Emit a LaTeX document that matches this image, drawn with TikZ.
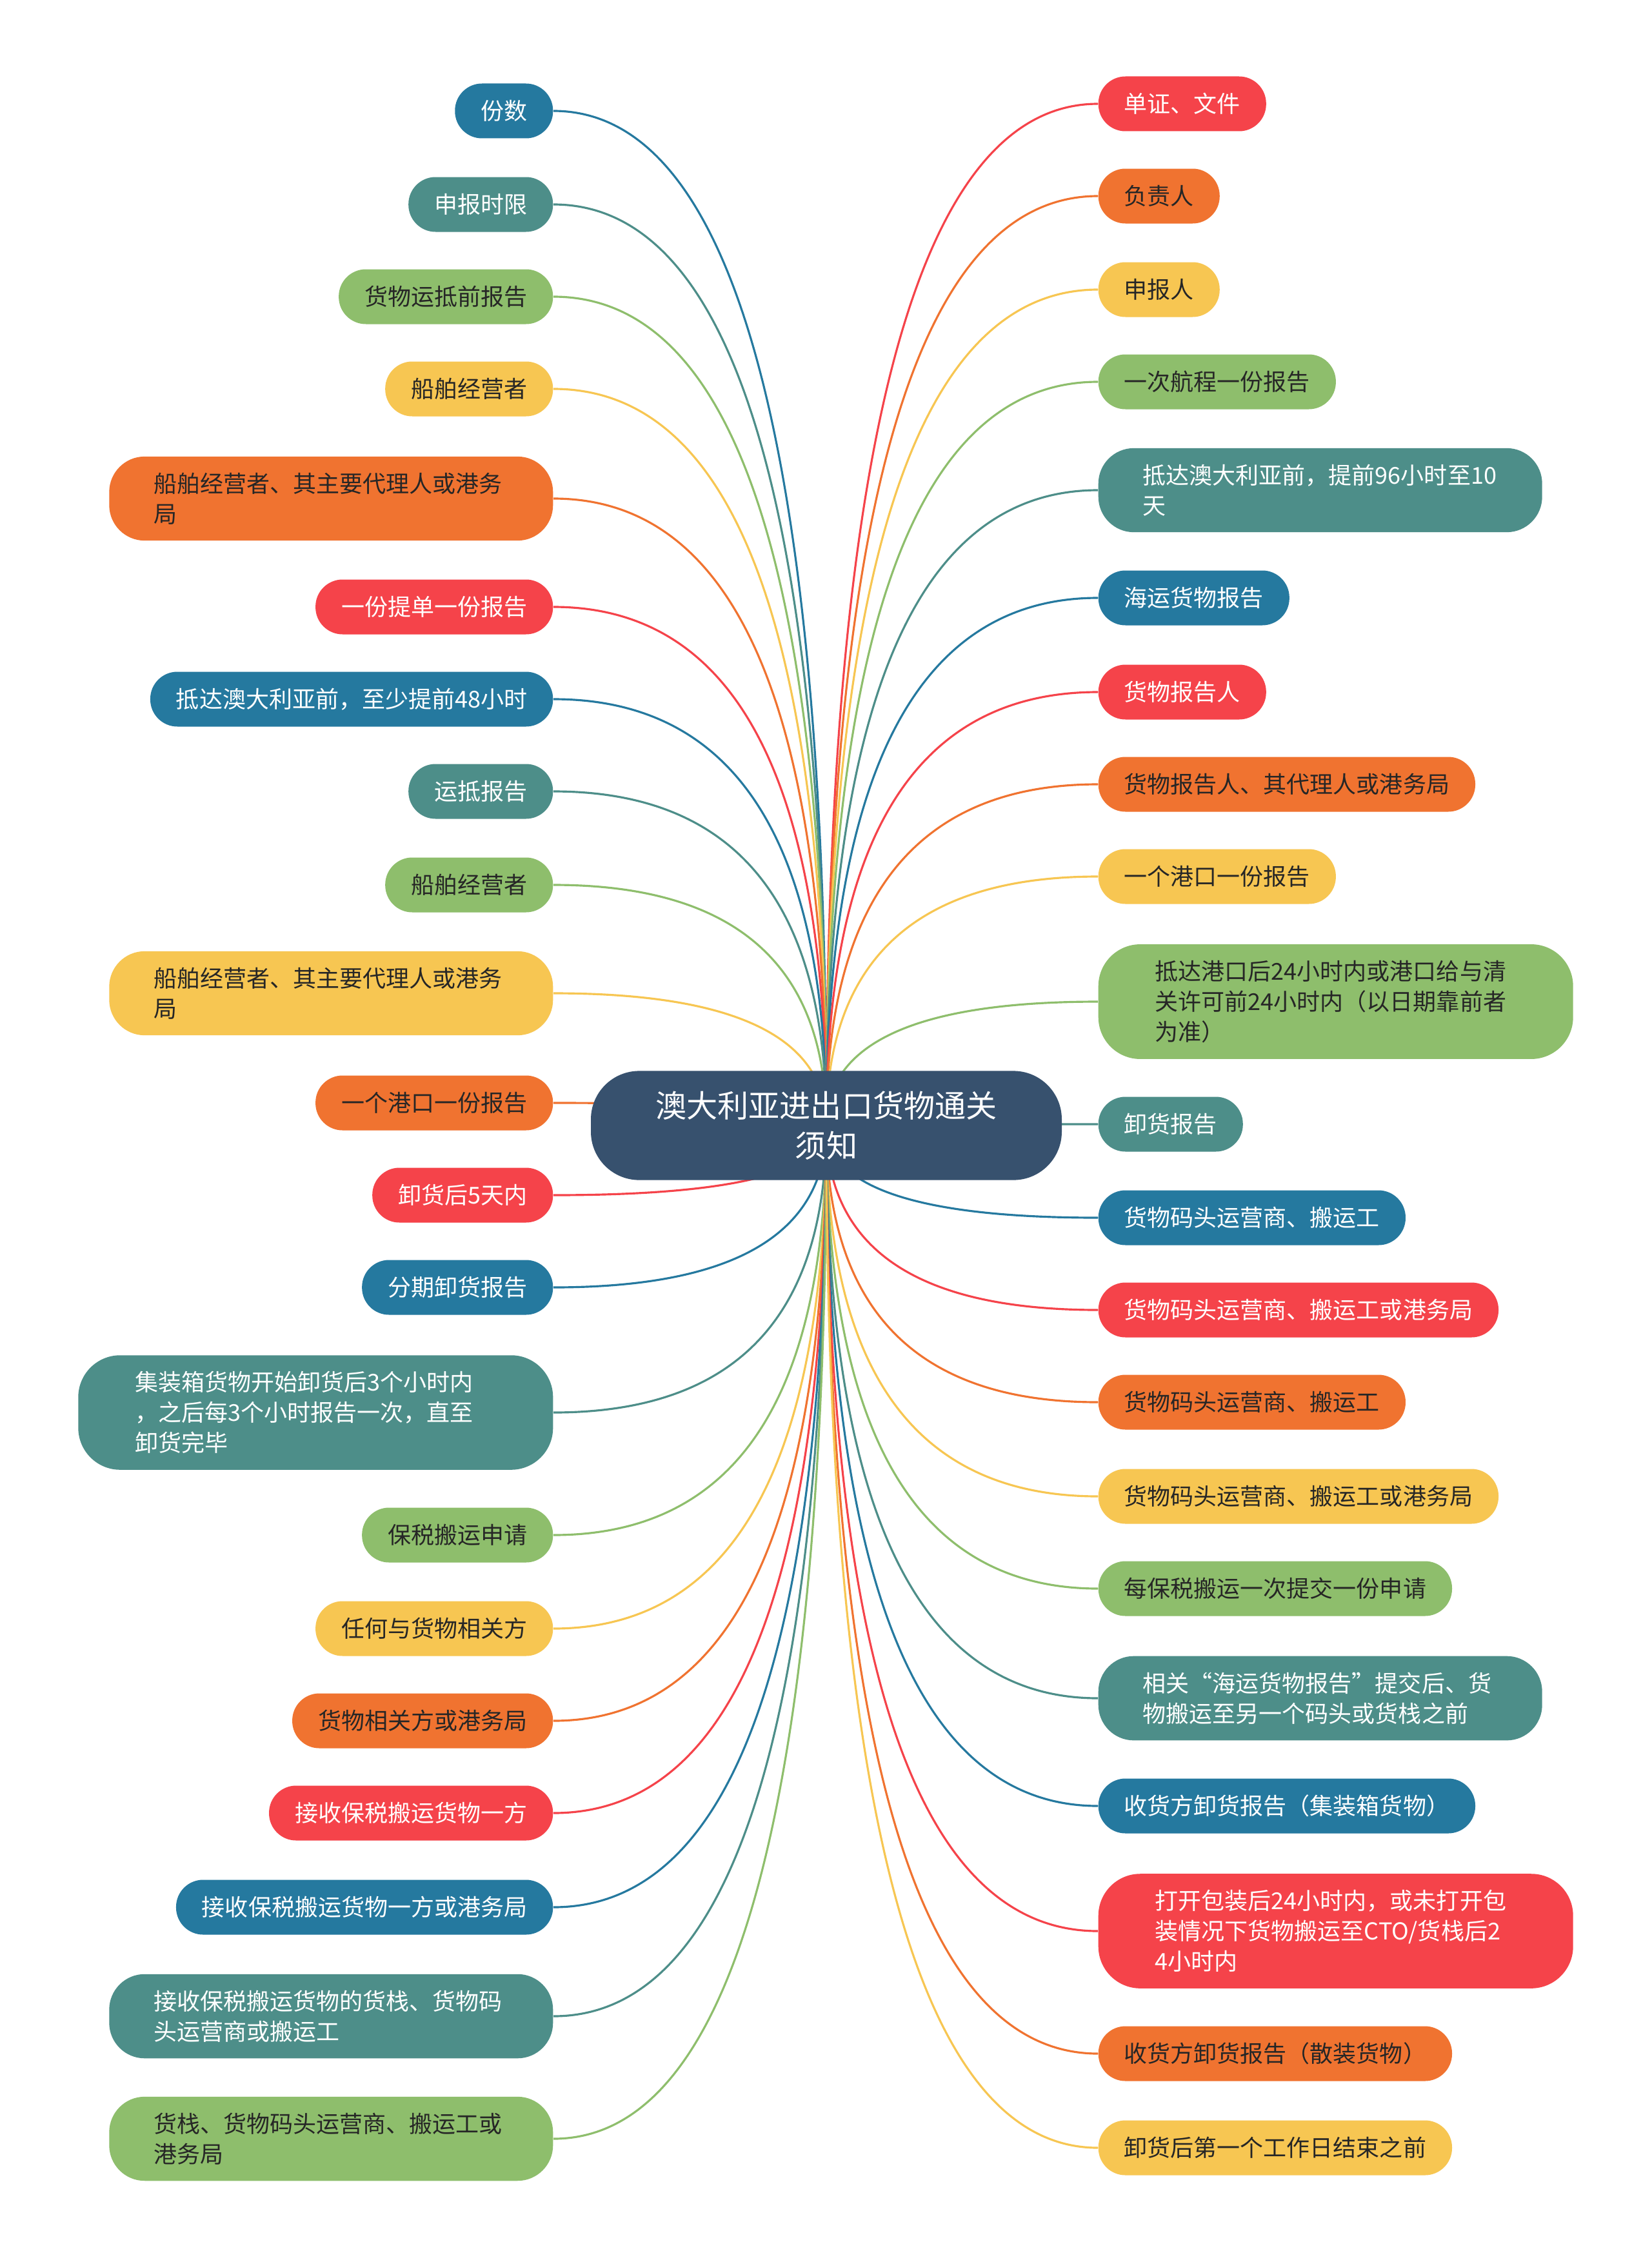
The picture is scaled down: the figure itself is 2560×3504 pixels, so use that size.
\documentclass[tikz,border=0pt]{standalone}
\usepackage{fontspec}
\newfontfamily\cjk{Noto Sans CJK SC}
\usetikzlibrary{calc}

% 配色
\definecolor{cRed}{HTML}{F5434A}
\definecolor{cOrange}{HTML}{F07330}
\definecolor{cYellow}{HTML}{F7C652}
\definecolor{cGreen}{HTML}{8EBE6C}
\definecolor{cTeal}{HTML}{4D8E89}
\definecolor{cBlue}{HTML}{25799F}
\definecolor{cRoot}{HTML}{37516E}
\definecolor{cInk}{HTML}{262626}

\pgfdeclarelayer{bg}
\pgfsetlayers{bg,main}

\tikzset{
  leaf/.style={font={\cjk\fontsize{10.25pt}{13.4pt}\selectfont}, rounded corners=4.2mm,
    minimum height=8.5mm, inner xsep=4mm, inner ysep=2.5mm},
  lred/.style={leaf, fill=cRed, text=white},
  lorange/.style={leaf, fill=cOrange, text=cInk},
  lyellow/.style={leaf, fill=cYellow, text=cInk},
  lgreen/.style={leaf, fill=cGreen, text=cInk},
  lteal/.style={leaf, fill=cTeal, text=white},
  lblue/.style={leaf, fill=cBlue, text=white},
  twoline/.style={text width=5.5cm, align=left, inner xsep=6.9mm, rounded corners=5.5mm},
  threeline/.style={text width=5.6cm, align=left, inner xsep=8.8mm, rounded corners=6.5mm},
  branch/.style={line width=0.9pt, to path={.. controls
    ($(\tikztostart)!0.667!(\tikztostart |- \tikztotarget)$) and
    ($(\tikztotarget)!0.667!(\tikztostart |- \tikztotarget)$) .. (\tikztotarget)}}
}

\begin{document}
\begin{tikzpicture}[x=0.1mm, y=-0.1mm]
  \useasboundingbox (0,0) rectangle (2560,3504);

  % 中心主题
  \node[fill=cRoot, text=white, rounded corners=7.5mm, text width=5.4cm, align=center,
    inner xsep=9.5mm, inner ysep=3.1mm, font={\cjk\fontsize{13.7pt}{17.8pt}\selectfont}]
    (root) at (1281,1745) {澳大利亚进出口货物通关\\须知};

  % 左侧分支（右边缘 x=858）
  \node[lblue, anchor=east] (L1) at (858,172) {份数};
  \node[lteal, anchor=east] (L2) at (858,317) {申报时限};
  \node[lgreen, anchor=east] (L3) at (858,460) {货物运抵前报告};
  \node[lyellow, anchor=east] (L4) at (858,603) {船舶经营者};
  \node[lorange, twoline, anchor=east] (L5) at (858,773) {船舶经营者、其主要代理人或港务\\局};
  \node[lred, anchor=east] (L6) at (858,941) {一份提单一份报告};
  \node[lblue, anchor=east] (L7) at (858,1084) {抵达澳大利亚前，至少提前48小时};
  \node[lteal, anchor=east] (L8) at (858,1227) {运抵报告};
  \node[lgreen, anchor=east] (L9) at (858,1372) {船舶经营者};
  \node[lyellow, twoline, anchor=east] (L10) at (858,1540) {船舶经营者、其主要代理人或港务\\局};
  \node[lorange, anchor=east] (L11) at (858,1710) {一个港口一份报告};
  \node[lred, anchor=east] (L12) at (858,1853) {卸货后5天内};
  \node[lblue, anchor=east] (L13) at (858,1996) {分期卸货报告};
  \node[lteal, threeline, anchor=east] (L14) at (858,2190) {集装箱货物开始卸货后3个小时内\\，之后每3个小时报告一次，直至\\卸货完毕};
  \node[lgreen, anchor=east] (L15) at (858,2380) {保税搬运申请};
  \node[lyellow, anchor=east] (L16) at (858,2525) {任何与货物相关方};
  \node[lorange, anchor=east] (L17) at (858,2668) {货物相关方或港务局};
  \node[lred, anchor=east] (L18) at (858,2811) {接收保税搬运货物一方};
  \node[lblue, anchor=east] (L19) at (858,2957) {接收保税搬运货物一方或港务局};
  \node[lteal, twoline, anchor=east] (L20) at (858,3126) {接收保税搬运货物的货栈、货物码\\头运营商或搬运工};
  \node[lgreen, twoline, anchor=east] (L21) at (858,3316) {货栈、货物码头运营商、搬运工或\\港务局};

  % 右侧分支（左边缘 x=1702）
  \node[lred, anchor=west] (R1) at (1702,161) {单证、文件};
  \node[lorange, anchor=west] (R2) at (1702,304) {负责人};
  \node[lyellow, anchor=west] (R3) at (1702,449) {申报人};
  \node[lgreen, anchor=west] (R4) at (1702,592) {一次航程一份报告};
  \node[lteal, twoline, anchor=west] (R5) at (1702,760) {抵达澳大利亚前，提前96小时至10\\天};
  \node[lblue, anchor=west] (R6) at (1702,927) {海运货物报告};
  \node[lred, anchor=west] (R7) at (1702,1073) {货物报告人};
  \node[lorange, anchor=west] (R8) at (1702,1216) {货物报告人、其代理人或港务局};
  \node[lyellow, anchor=west] (R9) at (1702,1359) {一个港口一份报告};
  \node[lgreen, threeline, anchor=west] (R10) at (1702,1553) {抵达港口后24小时内或港口给与清\\关许可前24小时内（以日期靠前者\\为准）};
  \node[lteal, anchor=west] (R11) at (1702,1743) {卸货报告};
  \node[lblue, anchor=west] (R12) at (1702,1888) {货物码头运营商、搬运工};
  \node[lred, anchor=west] (R13) at (1702,2031) {货物码头运营商、搬运工或港务局};
  \node[lorange, anchor=west] (R14) at (1702,2174) {货物码头运营商、搬运工};
  \node[lyellow, anchor=west] (R15) at (1702,2320) {货物码头运营商、搬运工或港务局};
  \node[lgreen, anchor=west] (R16) at (1702,2463) {每保税搬运一次提交一份申请};
  \node[lteal, twoline, anchor=west] (R17) at (1702,2633) {相关“海运货物报告”提交后、货\\物搬运至另一个码头或货栈之前};
  \node[lblue, anchor=west] (R18) at (1702,2800) {收货方卸货报告（集装箱货物）};
  \node[lred, threeline, anchor=west] (R19) at (1702,2994) {打开包装后24小时内，或未打开包\\装情况下货物搬运至CTO/货栈后2\\4小时内};
  \node[lorange, anchor=west] (R20) at (1702,3184) {收货方卸货报告（散装货物）};
  \node[lyellow, anchor=west] (R21) at (1702,3330) {卸货后第一个工作日结束之前};

  % 连线（放在底层，从中心主题出发）
  \begin{pgfonlayer}{bg}
    \fill[white] (0,0) rectangle (2560,3504);
    \draw[branch, cBlue] (root.center) to (L1.east);
    \draw[branch, cTeal] (root.center) to (L2.east);
    \draw[branch, cGreen] (root.center) to (L3.east);
    \draw[branch, cYellow] (root.center) to (L4.east);
    \draw[branch, cOrange] (root.center) to (L5.east);
    \draw[branch, cRed] (root.center) to (L6.east);
    \draw[branch, cBlue] (root.center) to (L7.east);
    \draw[branch, cTeal] (root.center) to (L8.east);
    \draw[branch, cGreen] (root.center) to (L9.east);
    \draw[branch, cYellow] (root.center) to (L10.east);
    \draw[branch, cOrange] (root.center) to (L11.east);
    \draw[branch, cRed] (root.center) to (L12.east);
    \draw[branch, cBlue] (root.center) to (L13.east);
    \draw[branch, cTeal] (root.center) to (L14.east);
    \draw[branch, cGreen] (root.center) to (L15.east);
    \draw[branch, cYellow] (root.center) to (L16.east);
    \draw[branch, cOrange] (root.center) to (L17.east);
    \draw[branch, cRed] (root.center) to (L18.east);
    \draw[branch, cBlue] (root.center) to (L19.east);
    \draw[branch, cTeal] (root.center) to (L20.east);
    \draw[branch, cGreen] (root.center) to (L21.east);
    \draw[branch, cRed] (root.center) to (R1.west);
    \draw[branch, cOrange] (root.center) to (R2.west);
    \draw[branch, cYellow] (root.center) to (R3.west);
    \draw[branch, cGreen] (root.center) to (R4.west);
    \draw[branch, cTeal] (root.center) to (R5.west);
    \draw[branch, cBlue] (root.center) to (R6.west);
    \draw[branch, cRed] (root.center) to (R7.west);
    \draw[branch, cOrange] (root.center) to (R8.west);
    \draw[branch, cYellow] (root.center) to (R9.west);
    \draw[branch, cGreen] (root.center) to (R10.west);
    \draw[branch, cTeal] (root.center) to (R11.west);
    \draw[branch, cBlue] (root.center) to (R12.west);
    \draw[branch, cRed] (root.center) to (R13.west);
    \draw[branch, cOrange] (root.center) to (R14.west);
    \draw[branch, cYellow] (root.center) to (R15.west);
    \draw[branch, cGreen] (root.center) to (R16.west);
    \draw[branch, cTeal] (root.center) to (R17.west);
    \draw[branch, cBlue] (root.center) to (R18.west);
    \draw[branch, cRed] (root.center) to (R19.west);
    \draw[branch, cOrange] (root.center) to (R20.west);
    \draw[branch, cYellow] (root.center) to (R21.west);
  \end{pgfonlayer}
\end{tikzpicture}
\end{document}
